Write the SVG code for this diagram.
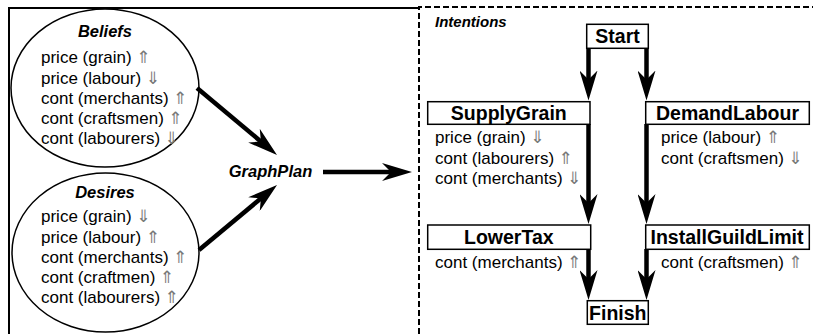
<svg xmlns="http://www.w3.org/2000/svg" width="813" height="334" viewBox="0 0 813 334">
<style>
.t{font-family:"Liberation Sans",Arial,sans-serif;font-size:17px;fill:#000}
.ti{font-family:"Liberation Sans",Arial,sans-serif;font-size:16.5px;font-weight:bold;font-style:italic;fill:#000}
.lb{font-family:"Liberation Sans",Arial,sans-serif;font-size:19.5px;font-weight:bold;fill:#000}
.ar{fill:#777;font-family:"DejaVu Sans",sans-serif;font-size:17px}
.el{fill:#fff;stroke:#000;stroke-width:1.5}
.bx{fill:#fff;stroke:#000;stroke-width:1.5}
.cn{fill:none;stroke:#000;stroke-width:4.5}
.fr{fill:none;stroke:#000;stroke-width:2}
.fd{fill:none;stroke:#000;stroke-width:2;stroke-dasharray:6 3}
</style>
<defs>
<marker id="ah" markerUnits="userSpaceOnUse" viewBox="0 -9 30 18" markerWidth="30" markerHeight="18" refX="12" refY="0" orient="auto">
<path d="M0,-9 L30,0 L0,9 L9,0 Z" fill="#000"/>
</marker>
</defs>
<g id="frame">
<path class="fr" d="M9,334 V8 H419"/>
<path class="fd" d="M419,334 V7 H813"/>
</g>
<g id="beliefs">
<ellipse class="el" cx="105" cy="88" rx="94" ry="79"/>
<text class="ti" x="105" y="37" text-anchor="middle">Beliefs</text>
<text class="t" x="41" y="63">price (grain) <tspan class="ar">⇑</tspan></text>
<text class="t" x="41" y="83.5">price (labour) <tspan class="ar">⇓</tspan></text>
<text class="t" x="41" y="104">cont (merchants) <tspan class="ar">⇑</tspan></text>
<text class="t" x="41" y="124">cont (craftsmen) <tspan class="ar">⇑</tspan></text>
<text class="t" x="41" y="144">cont (labourers) <tspan class="ar">⇓</tspan></text>
</g>
<g id="desires">
<ellipse class="el" cx="105.5" cy="252.5" rx="93.5" ry="79.5"/>
<text class="ti" x="105" y="198" text-anchor="middle">Desires</text>
<text class="t" x="41" y="222">price (grain) <tspan class="ar">⇓</tspan></text>
<text class="t" x="41" y="242.5">price (labour) <tspan class="ar">⇑</tspan></text>
<text class="t" x="41" y="263">cont (merchants) <tspan class="ar">⇑</tspan></text>
<text class="t" x="41" y="283">cont (craftmen) <tspan class="ar">⇑</tspan></text>
<text class="t" x="41" y="303">cont (labourers) <tspan class="ar">⇑</tspan></text>
</g>
<g id="graphplan">
<text class="ti" x="270.5" y="177" text-anchor="middle">GraphPlan</text>
</g>
<g id="intentions">
<text class="ti" x="435" y="27" style="font-size:15px">Intentions</text>
</g>
<g id="start">
<rect class="bx" x="586.7" y="24.3" width="61.6" height="24"/>
<text class="lb" x="617.5" y="43.3" text-anchor="middle">Start</text>
</g>
<g id="supplygrain">
<rect class="bx" x="427.7" y="101.7" width="162.3" height="22.6"/>
<text class="lb" x="508.8" y="119.5" text-anchor="middle">SupplyGrain</text>
<text class="t" x="435" y="143">price (grain) <tspan class="ar">⇓</tspan></text>
<text class="t" x="435" y="163.5">cont (labourers) <tspan class="ar">⇑</tspan></text>
<text class="t" x="435" y="184">cont (merchants) <tspan class="ar">⇓</tspan></text>
</g>
<g id="demandlabour">
<rect class="bx" x="645.7" y="101.7" width="163.6" height="22.6"/>
<text class="lb" x="727.5" y="119.5" text-anchor="middle">DemandLabour</text>
<text class="t" x="661" y="143">price (labour) <tspan class="ar">⇑</tspan></text>
<text class="t" x="661" y="163.5">cont (craftsmen) <tspan class="ar">⇓</tspan></text>
</g>
<g id="lowertax">
<rect class="bx" x="427.7" y="225" width="163" height="24.3"/>
<text class="lb" x="508.8" y="244" text-anchor="middle">LowerTax</text>
<text class="t" x="435" y="268">cont (merchants) <tspan class="ar">⇑</tspan></text>
</g>
<g id="installguildlimit">
<rect class="bx" x="645.7" y="225" width="163.6" height="24.3"/>
<text class="lb" x="727" y="244" text-anchor="middle" textLength="153" lengthAdjust="spacingAndGlyphs">InstallGuildLimit</text>
<text class="t" x="661" y="268">cont (craftsmen) <tspan class="ar">⇑</tspan></text>
</g>
<g id="finish">
<rect class="bx" x="587.3" y="300.7" width="61" height="23.6"/>
<text class="lb" x="617.8" y="320" text-anchor="middle">Finish</text>
</g>
<g id="connectors">
<line class="cn" x1="197" y1="88" x2="263.2" y2="143.4" marker-end="url(#ah)"/>
<line class="cn" x1="199" y1="250" x2="263.2" y2="196.5" marker-end="url(#ah)"/>
<line class="cn" x1="323" y1="172" x2="394" y2="172" marker-end="url(#ah)"/>
<line class="cn" x1="588.5" y1="48" x2="588.5" y2="82.5" marker-end="url(#ah)"/>
<line class="cn" x1="646.5" y1="48" x2="646.5" y2="82.5" marker-end="url(#ah)"/>
<line class="cn" x1="588.5" y1="124" x2="588.5" y2="206" marker-end="url(#ah)"/>
<line class="cn" x1="646.5" y1="124" x2="646.5" y2="206" marker-end="url(#ah)"/>
<line class="cn" x1="588.5" y1="249" x2="588.5" y2="282" marker-end="url(#ah)"/>
<line class="cn" x1="646.5" y1="249" x2="646.5" y2="282" marker-end="url(#ah)"/>
</g>
</svg>
